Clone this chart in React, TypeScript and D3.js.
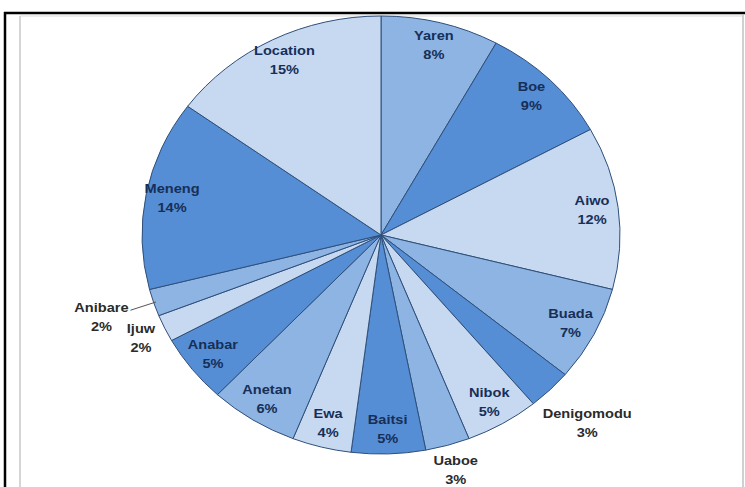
import React from "react";
import * as d3 from "d3";

const categories = [
  "Yaren", "Boe", "Aiwo", "Buada", "Denigomodu", "Nibok", "Uaboe", "Baitsi",
  "Ewa", "Anetan", "Anabar", "Ijuw", "Anibare", "Meneng", "Location",
];
const values = [8, 9, 12, 7, 3, 5, 3, 5, 4, 6, 5, 2, 2, 14, 15];
const percentLabels = ["8%", "9%", "12%", "7%", "3%", "5%", "3%", "5%", "4%", "6%", "5%", "2%", "2%", "14%", "15%"];

// layout settings (not data)
const W = 745;
const H = 487;
const CX = 381;
const CY = 235;
const RX = 239;
const RY = 219;
const INSIDE_R = 0.89;
const outsideRadius: Record<string, number> = {
  Denigomodu: 1.22,
  Uaboe: 1.12,
  Ijuw: 1.11,
  Anibare: 1.23,
};
const leaderLabels = ["Anibare"];
const palette = ["#8db4e2", "#558ed5", "#c6d9f1"];

export default function App() {
  const data = categories.map((c, i) => ({ name: c, value: values[i], pct: percentLabels[i], i }));
  const pie = d3.pie<any>().sort(null).value((d: any) => d.value).startAngle(0).endAngle(2 * Math.PI);
  const arcs = pie(data);
  const arcGen = d3.arc<any>().innerRadius(0).outerRadius(RX);
  const pos = (a: number, r: number) => [CX + r * RX * Math.sin(a), CY - r * RY * Math.cos(a)];
  const font = "'Liberation Sans', Arial, sans-serif";

  return (
    <svg width={W} height={H} style={{ position: "absolute", left: 0, top: 0, background: "#fff" }}>
      <rect x={0} y={0} width={W} height={H} fill="#ffffff" />
      {/* frame */}
      <line x1={4} y1={13} x2={W} y2={13} stroke="#000" strokeWidth={2.5} />
      <line x1={5} y1={12} x2={5} y2={H} stroke="#000" strokeWidth={2.5} />
      <line x1={20} y1={16} x2={742} y2={16} stroke="#e6e6e6" strokeWidth={1.5} />
      <line x1={20} y1={16} x2={20} y2={H} stroke="#d6d6d6" strokeWidth={2} />
      <line x1={743} y1={15} x2={743} y2={H} stroke="#d0d0d0" strokeWidth={2} />
      <g transform={`translate(${CX},${CY}) scale(1,${RY / RX})`}>
        {arcs.map((a: any) => (
          <path
            key={a.data.name}
            d={arcGen(a) as string}
            fill={palette[a.data.i % 3]}
            stroke="#2f4f7a"
            strokeWidth={1}
            vectorEffect="non-scaling-stroke"
          />
        ))}
      </g>
      {arcs.map((a: any) => {
        const mid = (a.startAngle + a.endAngle) / 2;
        const outside = outsideRadius[a.data.name] !== undefined;
        const r = outside ? outsideRadius[a.data.name] : INSIDE_R;
        const [x, y] = pos(mid, r);
        const color = outside ? "#2b2b2b" : "#172f58";
        const leader = leaderLabels.includes(a.data.name);
        const edge = pos(mid, 0.99);
        return (
          <g key={"l" + a.data.name}>
            {leader && (
              <line x1={x + 29} y1={y - 8} x2={edge[0]} y2={edge[1]} stroke="#555" strokeWidth={1} />
            )}
            <g transform={`translate(${x},${y}) scale(1.08,1)`}>
              <text
                x={0}
                y={-9.5}
                textAnchor="middle"
                dominantBaseline="middle"
                fontFamily={font}
                fontWeight="bold"
                fontSize={13.5}
                fill={color}
              >
                {a.data.name}
              </text>
              <text
                x={0}
                y={9.5}
                textAnchor="middle"
                dominantBaseline="middle"
                fontFamily={font}
                fontWeight="bold"
                fontSize={13.5}
                fill={color}
              >
                {a.data.pct}
              </text>
            </g>
          </g>
        );
      })}
    </svg>
  );
}
